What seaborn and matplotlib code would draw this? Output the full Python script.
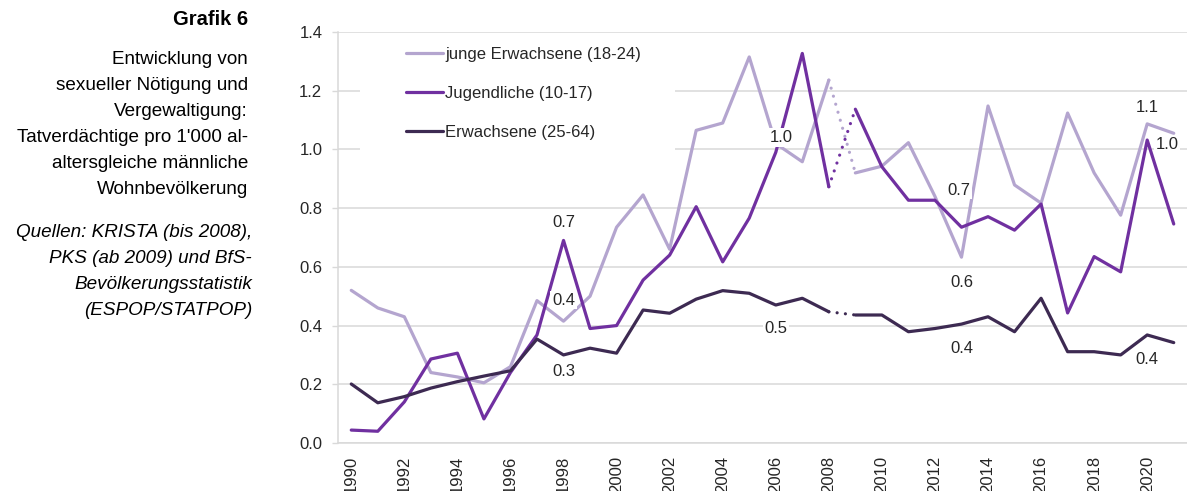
#%% libraries
import pandas as pd
import seaborn as sns
import matplotlib.pyplot as plt
from matplotlib.patches import Rectangle

#%% data
years = list(range(1990, 2022))
junge = [0.52, 0.46, 0.43, 0.24, 0.225, 0.205, 0.26, 0.485, 0.415, 0.50,
         0.735, 0.845, 0.66, 1.065, 1.09, 1.315, 1.02, 0.958, 1.236, 0.92,
         0.943, 1.023, 0.84, 0.633, 1.148, 0.879, 0.817, 1.124, 0.92, 0.776,
         1.087, 1.055]
jugend = [0.044, 0.04, 0.14, 0.286, 0.306, 0.082, 0.24, 0.368, 0.69, 0.39,
          0.40, 0.555, 0.64, 0.805, 0.617, 0.766, 0.99, 1.327, 0.873, 1.137,
          0.941, 0.827, 0.827, 0.735, 0.771, 0.725, 0.814, 0.443, 0.635, 0.583,
          1.032, 0.746]
erw = [0.201, 0.137, 0.158, 0.187, 0.209, 0.228, 0.246, 0.354, 0.30, 0.323,
       0.306, 0.453, 0.442, 0.49, 0.519, 0.51, 0.47, 0.493, 0.447, 0.436,
       0.436, 0.379, 0.39, 0.405, 0.43, 0.379, 0.493, 0.311, 0.311, 0.30,
       0.368, 0.342]
series_names = ['junge Erwachsene (18-24)', 'Jugendliche (10-17)', 'Erwachsene (25-64)']
break_years = (2008, 2009)

# value labels: series, year, text
value_labels = [
    ('Jugendliche (10-17)', 1998, '0.7'),
    ('junge Erwachsene (18-24)', 1998, '0.4'),
    ('Erwachsene (25-64)', 1998, '0.3'),
    ('Jugendliche (10-17)', 2006, '1.0'),
    ('Erwachsene (25-64)', 2006, '0.5'),
    ('Jugendliche (10-17)', 2013, '0.7'),
    ('junge Erwachsene (18-24)', 2013, '0.6'),
    ('Erwachsene (25-64)', 2013, '0.4'),
    ('junge Erwachsene (18-24)', 2020, '1.1'),
    ('Jugendliche (10-17)', 2020, '1.0'),
    ('Erwachsene (25-64)', 2020, '0.4'),
]
# offsets in pixels for those labels
label_offsets = [(0, 18), (0, 21), (0, -17), (5, 15), (0, -23), (-3, 37),
                 (0, -25), (0, -24), (0, 16), (20, -4), (0, -25)]

title = 'Grafik 6'
body = ['Entwicklung von', 'sexueller Nötigung und', 'Vergewaltigung:',
        "Tatverdächtige pro 1'000 al-", 'altersgleiche männliche', 'Wohnbevölkerung']
source = ['Quellen: KRISTA (bis 2008),', 'PKS (ab 2009) und BfS-',
          'Bevölkerungsstatistik', '(ESPOP/STATPOP)']

#%% data frame
df = pd.DataFrame({'year': years * 3,
                   'value': junge + jugend + erw,
                   'group': sum([[n] * len(years) for n in series_names], [])})
df['pos'] = df['year'] - years[0]

#%% style
sns.set_style('white')
plt.rcParams['font.family'] = ['Liberation Sans', 'DejaVu Sans']
palette = dict(zip(series_names, ['#b4a5cf', '#7030a0', '#3d2a52']))
grid_c = '#d9d9d9'
W, H = 1187, 491

fig = plt.figure(figsize=(W / 100, H / 100), dpi=100)
ax = fig.add_axes([338 / W, 1 - 443 / H, (W - 338) / W, (443 - 32) / H])

for name in series_names:
    d = df[df['group'] == name]
    c = palette[name]
    sns.lineplot(data=d[d['year'] <= break_years[0]], x='pos', y='value', color=c,
                 lw=2.3, ax=ax, label=name)
    sns.lineplot(data=d[d['year'] >= break_years[1]], x='pos', y='value', color=c,
                 lw=2.3, ax=ax, legend=False)
    gap = d[d['year'].between(*break_years)]
    ax.plot(gap['pos'], gap['value'], color=c, lw=2.3,
            linestyle=(0, (0.01, 2.6)), dash_capstyle='round')

# value labels
for (name, yr, txt), (dx, dy) in zip(value_labels, label_offsets):
    d = df[(df['group'] == name) & (df['year'] == yr)].iloc[0]
    ax.annotate(txt, xy=(d['pos'], d['value']), xytext=(dx * 0.72, dy * 0.72),
                textcoords='offset points', ha='center', va='center', fontsize=12,
                color='#262626', zorder=5,
                bbox=dict(boxstyle='square,pad=0.1', fc='white', ec='none'))

# axes
ax.set_xlim(-0.5, len(years) - 0.5)
ax.set_ylim(0, 1.4)
ax.set_yticks([0, 0.2, 0.4, 0.6, 0.8, 1.0, 1.2, 1.4])
ax.set_yticklabels([f'{v:.1f}' for v in ax.get_yticks()])
ax.set_xticks(range(0, len(years), 2))
ax.set_xticklabels([str(y) for y in years[::2]], rotation=90)
ax.set_xticks([i - 0.5 for i in range(len(years) + 1)], minor=True)
ax.tick_params(axis='x', which='major', length=0, pad=9, labelsize=12, labelcolor='#262626')
ax.tick_params(axis='x', which='minor', length=4.3, width=1, color=grid_c, direction='out')
ax.tick_params(axis='y', length=4.3, width=1, color=grid_c, pad=7, labelsize=12,
               labelcolor='#262626', left=True)
ax.set_xlabel(None)
ax.set_ylabel(None)
ax.grid(axis='y', color=grid_c, lw=1.1)
ax.grid(axis='x', visible=False)
ax.set_axisbelow(True)
for s in ['top', 'right']:
    ax.spines[s].set_visible(False)
for s in ['left', 'bottom']:
    ax.spines[s].set_color(grid_c)
    ax.spines[s].set_linewidth(1.1)

# white legend area over the gridlines
ax.add_patch(Rectangle((22 / 849, 1 - 136 / 411), 315 / 849, 128 / 411,
                       transform=ax.transAxes, fc='white', ec='none', zorder=1))
handles, labels = ax.get_legend_handles_labels()
leg = ax.legend(handles[:3], labels[:3], loc='upper left', bbox_to_anchor=(68 / 849, 1 - 15 / 411),
                frameon=False, fontsize=12, handlelength=2.2, handletextpad=0.15,
                labelspacing=1.45, borderpad=0, borderaxespad=0)
for t in leg.get_texts():
    t.set_color('#262626')

# left text panel
fx = 248 / W
fig.text(fx, 1 - 25 / H, title, ha='right', va='baseline', fontsize=14.5,
         fontweight='bold', color='black')
for i, line in enumerate(body):
    fig.text(fx, 1 - (64 + 26 * i) / H, line, ha='right', va='baseline', fontsize=13.6,
             color='black')
for i, line in enumerate(source):
    fig.text(fx + 4 / W, 1 - (237 + 26 * i) / H, line, ha='right', va='baseline',
             fontsize=13.6, style='italic', color='black')

fig.savefig('out.png', dpi=100)
